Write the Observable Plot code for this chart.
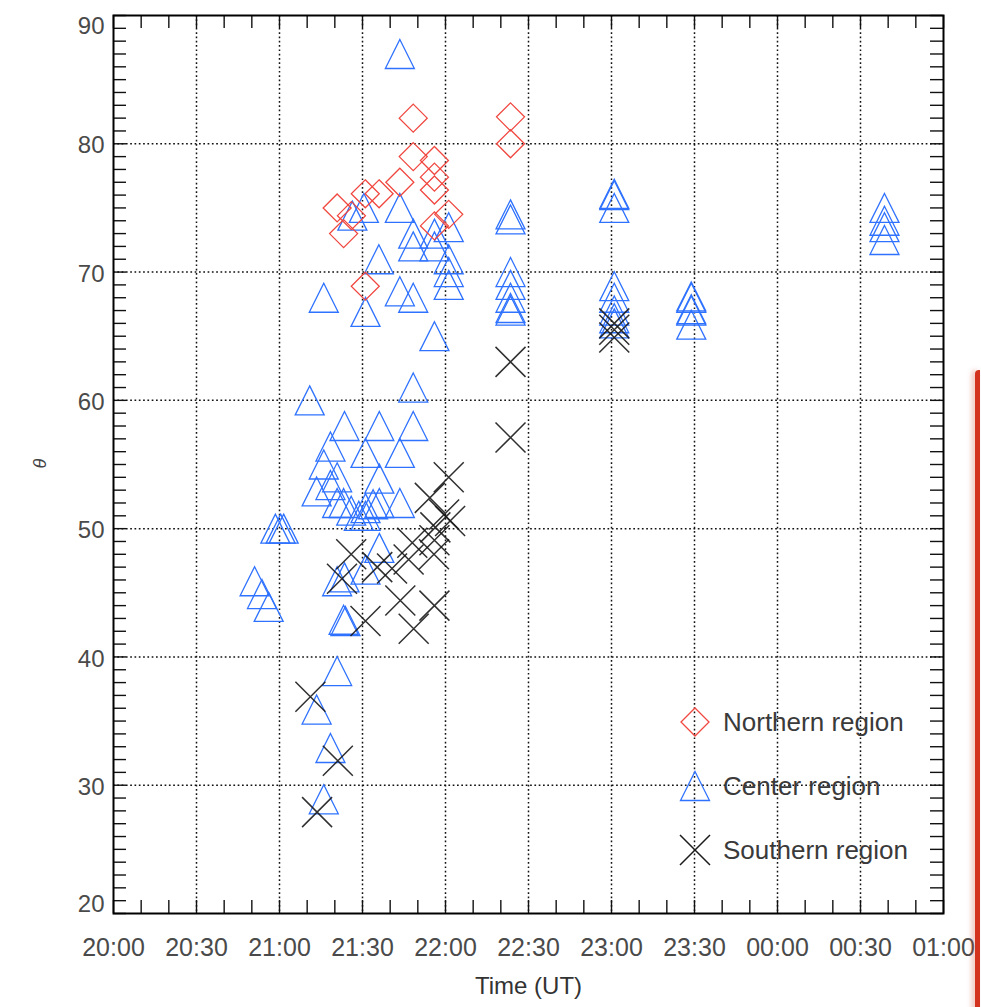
<!DOCTYPE html>
<html>
<head>
<meta charset="utf-8">
<script src="https://cdn.jsdelivr.net/npm/d3@7"></script>
<script src="https://cdn.jsdelivr.net/npm/@observablehq/plot@0.6"></script>
<style>
  html, body { margin: 0; padding: 0; background: #fff; }
  #wrap { position: relative; width: 981px; height: 1007px; overflow: hidden; font-family: "Liberation Sans", Arial, Helvetica, sans-serif; }
  #wrap svg.plot { position: absolute; left: 0; top: 0; }
  .legend-row { position: absolute; left: 679px; height: 32px; display: flex; align-items: center; }
  .legend-row svg { width: 32px; height: 32px; overflow: visible; }
  .legend-row span { margin-left: 12px; font-size: 26px; color: #3a3a3a; white-space: nowrap; }
  #edge { position: absolute; left: 975px; top: 370px; width: 5px; height: 660px; background: #d2321e; border-radius: 4px 0 0 0; box-shadow: -3px 0 5px rgba(210,70,50,0.35); }
</style>
</head>
<body>
<div id="wrap"></div>
<script>
// ---------------- data ----------------
const northernTime = ["21:48:20","21:48:20","21:56:00","21:56:00","21:56:00","22:01:10","21:56:00","21:43:30",
  "21:36:00","21:31:00","21:20:50","21:26:00","21:23:10","21:31:00","22:23:30","22:23:30"];
const northernTheta = [82.0,79.0,78.7,77.4,76.4,74.5,73.6,77.0,76.1,76.1,75.0,74.4,73.0,68.9,82.1,80.0];

const centerTime = ["21:43:30","21:26:20","21:30:30","21:43:30","21:48:20","21:48:20","21:56:00","21:56:00",
  "22:01:10","22:01:10","22:01:10","22:01:10","21:35:55","21:16:00","21:31:05","21:43:30","21:48:20","21:56:00",
  "21:48:20","21:10:55","21:23:30","21:36:05","21:48:20","21:18:25","21:31:05","21:43:30","21:16:00","21:20:50",
  "21:36:05","21:18:25","21:13:25","21:43:30","21:20:50","21:23:10","21:36:05","21:33:50","21:25:55","21:31:05",
  "21:28:40","21:31:05","20:58:30","21:00:25","21:01:30","21:36:05","21:31:05","21:23:30","21:20:50","20:51:00",
  "20:53:40","20:56:05","21:23:10","21:23:50","21:20:50","21:13:25","21:18:25","21:16:00",
  "22:23:30","22:23:30","22:23:30","22:23:30","22:23:30","22:23:30","22:23:30",
  "23:01:00","23:01:00","23:01:00","23:01:00","23:01:00","23:01:00","23:01:00","23:01:00",
  "23:28:50","23:28:50","23:28:50","23:28:50","23:28:50",
  "00:38:40","00:38:40","00:38:40","00:38:40"];
const centerTheta = [87.0,74.4,75.0,75.0,73.0,72.0,73.0,72.0,
  73.5,71.0,70.0,69.0,71.0,68.0,66.9,68.5,68.0,65.0,
  61.0,60.0,58.0,58.0,58.0,56.4,55.9,55.9,55.0,54.0,
  53.9,53.4,52.9,52.0,52.0,52.0,52.0,51.9,51.4,51.6,
  51.0,51.0,50.0,50.0,50.0,48.5,46.8,46.2,45.9,45.9,
  44.9,43.9,42.9,42.8,38.9,35.9,32.9,28.9,
  74.5,74.1,70.0,69.0,68.0,67.0,67.2,
  76.0,76.1,75.0,68.9,68.0,67.0,66.4,66.0,
  68.0,68.1,67.0,67.1,65.9,
  75.0,74.0,73.5,72.5];

const southernTime = ["21:11:10","21:21:05","21:13:35","21:22:35","21:25:55","21:31:05","21:35:20","21:40:40",
  "21:43:40","21:48:00","21:46:40","21:48:30","21:55:50","21:56:00","21:54:20","22:01:10","21:59:30","22:01:40",
  "21:56:20","21:56:00","22:23:30","22:23:30","23:01:00","23:01:00","23:01:00"];
const southernTheta = [36.9,31.9,27.9,46.1,48.0,42.8,47.0,46.9,
  44.4,48.9,47.6,42.2,48.0,44.0,52.4,54.0,51.1,50.6,
  50.1,49.1,63.0,57.1,66.0,65.5,64.9];

const seriesNames = ["Northern region", "Center region", "Southern region"];
const xTickLabels = ["20:00","20:30","21:00","21:30","22:00","22:30","23:00","23:30","00:00","00:30","01:00"];
const yTickValues = [20, 30, 40, 50, 60, 70, 80, 90];

// ---------------- helpers ----------------
function toDate(s) {
  const [h, m, sec = 0] = s.split(":").map(Number);
  const day = h < 12 ? 2 : 1; // times after midnight belong to the next day
  return new Date(Date.UTC(2000, 0, day, h, m, sec));
}
const rows = (times, thetas, region) => times.map((t, i) => ({time: toDate(t), theta: thetas[i], region}));
const northern = rows(northernTime, northernTheta, seriesNames[0]);
const center = rows(centerTime, centerTheta, seriesNames[1]);
const southern = rows(southernTime, southernTheta, seriesNames[2]);

const xTicks = xTickLabels.map(toDate);
const xStart = xTicks[0], xEnd = xTicks[xTicks.length - 1];
const xMinor = d3.utcMinute.every(10).range(xStart, new Date(+xEnd + 1));
const yMin = yTickValues[0], yMax = yTickValues[yTickValues.length - 1];
const yMinor = d3.range(yMin, yMax + 1, 1);
const xGrid = xTicks.slice(1, -1);
const yGrid = yTickValues.slice(1, -1);

// IDL-like symbols (centered on their bounding box)
const diamondSym = {draw(ctx, size) { const s = Math.sqrt(size / Math.PI);
  ctx.moveTo(0, -s); ctx.lineTo(s, 0); ctx.lineTo(0, s); ctx.lineTo(-s, 0); ctx.closePath(); }};
const triangleSym = {draw(ctx, size) { const s = Math.sqrt(size / Math.PI);
  ctx.moveTo(0, -s); ctx.lineTo(s, s); ctx.lineTo(-s, s); ctx.closePath(); }};
const crossSym = {draw(ctx, size) { const s = Math.sqrt(size / Math.PI);
  ctx.moveTo(-s, -s); ctx.lineTo(s, s); ctx.moveTo(s, -s); ctx.lineTo(-s, s); }};

const RED = "#f0473f", BLUE = "#2f72ff", BLACK = "#1a1a1a";

// ---------------- layout ----------------
const W = 981, H = 1007;
const mT = 15, mB = 94, mL = 113, mR = 38;
const innerW = W - mL - mR, innerH = H - mT - mB;
const TICK = 13;
const FONT = '"Liberation Sans", Arial, Helvetica, sans-serif';
const labelColor = "#4a4a4a";

const gridStyle = {stroke: "#111", strokeOpacity: 1, strokeWidth: 1.5, strokeDasharray: "1.7,2.6"};
const yAxisStyle = {tickSize: 0, tickPadding: 9, fontSize: 24, label: null, color: labelColor};

const chart = Plot.plot({
  width: W, height: H,
  marginTop: mT, marginBottom: mB, marginLeft: mL, marginRight: mR,
  style: {fontFamily: FONT, background: "transparent", color: labelColor},
  x: {type: "utc", domain: [xStart, xEnd]},
  y: {domain: [yMin, yMax]},
  marks: [
    Plot.gridX(xGrid, gridStyle),
    Plot.gridY(yGrid, gridStyle),
    // inward ticks on all four sides
    Plot.tickX(xMinor, {x: d => d, insetTop: innerH - TICK, stroke: "#111", strokeWidth: 1.4}),
    Plot.tickX(xMinor, {x: d => d, insetBottom: innerH - TICK, stroke: "#111", strokeWidth: 1.4}),
    Plot.tickY(yMinor, {y: d => d, insetRight: innerW - TICK, stroke: "#111", strokeWidth: 1.4}),
    Plot.tickY(yMinor, {y: d => d, insetLeft: innerW - TICK, stroke: "#111", strokeWidth: 1.4}),
    Plot.frame({stroke: "#000", strokeWidth: 2}),
    Plot.axisX({ticks: xTicks, tickSize: 0, tickPadding: 25, tickFormat: d3.utcFormat("%H:%M"),
      fontSize: 25, label: null, color: labelColor}),
    // y labels: end labels are nudged inward like the original
    Plot.axisY({ticks: yGrid, dy: 2, ...yAxisStyle}),
    Plot.axisY({ticks: [yMax], dy: 11, ...yAxisStyle}),
    Plot.axisY({ticks: [yMin], dy: -9, ...yAxisStyle}),
    Plot.text(["Time (UT)"], {frameAnchor: "bottom", dy: 80, fontSize: 24, fill: "#333"}),
    Plot.text(["θ"], {frameAnchor: "left", dx: -73, dy: 4, rotate: -90, fontSize: 18, fontStyle: "italic", fill: "#444"}),
    // data
    Plot.dot(center, {x: "time", y: "theta", symbol: triangleSym, r: 14.5, stroke: BLUE, strokeWidth: 1.3, fill: "none"}),
    Plot.dot(northern, {x: "time", y: "theta", symbol: diamondSym, r: 14, stroke: RED, strokeWidth: 1.3, fill: "none"}),
    Plot.dot(southern, {x: "time", y: "theta", symbol: crossSym, r: 15, stroke: BLACK, strokeWidth: 1.5, strokeOpacity: 0.9, fill: "none"})
  ]
});
chart.classList.add("plot");
const wrap = document.getElementById("wrap");
wrap.appendChild(chart);

// ---------------- legend (inside the plot, lower right) ----------------
const legendItems = [
  {name: seriesNames[0], sym: diamondSym, r: 14, color: RED, sw: 1.3, top: 706},
  {name: seriesNames[1], sym: triangleSym, r: 14.5, color: BLUE, sw: 1.3, top: 770},
  {name: seriesNames[2], sym: crossSym, r: 15, color: BLACK, sw: 1.5, top: 834}
];
for (const it of legendItems) {
  const row = document.createElement("div");
  row.className = "legend-row";
  row.style.top = it.top + "px";
  const p = d3.path();
  it.sym.draw(p, it.r * it.r * Math.PI);
  row.innerHTML = `<svg viewBox="-16 -16 32 32"><path d="${p}" fill="none" stroke="${it.color}" stroke-width="${it.sw}"/></svg><span>${it.name}</span>`;
  wrap.appendChild(row);
}
const edge = document.createElement("div");
edge.id = "edge";
wrap.appendChild(edge);
</script>
</body>
</html>
